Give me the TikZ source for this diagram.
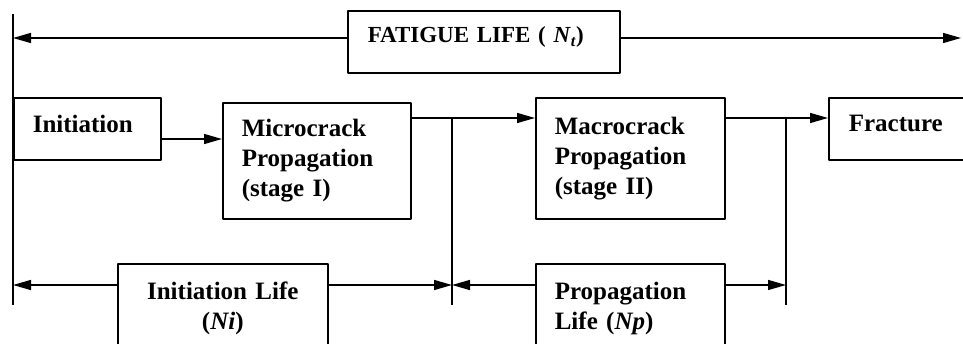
\documentclass[tikz,border=0pt]{standalone}
\usepackage{fontspec}
\setmainfont{Liberation Serif}
\usetikzlibrary{arrows.meta}

\begin{document}
\begin{tikzpicture}[x=1pt, y=-1pt, line join=round,
    font=\fontsize{25}{30}\selectfont\bfseries,
    box/.style={draw, line width=1.6pt, anchor=north west, inner xsep=19pt, inner ysep=0pt, align=left},
    arr/.style={line width=1.4pt, -{Triangle[length=18pt,width=10pt]}},
    ln/.style={line width=1.4pt}]
    \useasboundingbox (0,0) rectangle (963,344);
    \clip (0,0) rectangle (963,344);

    % Tong tuoi tho
    \node[box, font=\fontsize{23}{28}\selectfont\bfseries, inner xsep=20pt, text width=232pt, minimum height=62pt, text depth=14pt] (fatigue) at (347,10) {\mbox{FATIGUE LIFE ( \textit{N}\textsubscript{\textit{t}})}};

    % Cac giai doan
    \node[box, text width=109pt, minimum height=62pt, text depth=10pt] (init) at (13,97) {Initiation};
    \node[box, text width=150pt, minimum height=116pt] (micro) at (222,102) {Microcrack\\Propagation\\(stage I)};
    \node[box, text width=151pt, minimum height=121pt] (macro) at (535,97) {Macrocrack\\Propagation\\(stage II)};
    \node[box, inner xsep=20pt, text width=100pt, minimum height=62pt, text depth=10pt] (fract) at (828,97) {Fracture};

    % Tuoi tho thanh phan
    \node[box, align=center, text width=172pt, minimum height=90pt] (inilife) at (117,263) {Initiation Life\\(\textit{Ni})};
    \node[box, text width=151pt, minimum height=90pt] (proplife) at (535,263) {Propagation\\Life (\textit{Np})};

    % Cac moc
    \coordinate (top0) at (13,14);
    \coordinate (bot0) at (13,305);
    \coordinate (jA) at (452,118);
    \coordinate (jAb) at (452,305);
    \coordinate (jB) at (786,118);
    \coordinate (jBb) at (786,305);
    \coordinate (tipR) at (961,38);
    \coordinate (midrow) at (0,139);
    \coordinate (lowrow) at (0,285);

    % Duong doc
    \draw[ln] (top0) -- (bot0);
    \draw[ln] (jA) -- (jAb);
    \draw[ln] (jB) -- (jBb);

    % Mui ten tren
    \draw[arr] (fatigue.west |- tipR) -- (top0 |- tipR);
    \draw[arr] (fatigue.east |- tipR) -- (tipR);

    % Chuoi giai doan
    \draw[arr] (init.east |- midrow) -- (micro.west |- midrow);
    \draw[ln] (micro.east |- jA) -- (jA);
    \draw[arr] (jA) -- (macro.west |- jA);
    \draw[ln] (macro.east |- jB) -- (jB);
    \draw[arr] (jB) -- (fract.west |- jB);

    % Mui ten duoi
    \draw[arr] (inilife.west |- lowrow) -- (bot0 |- lowrow);
    \draw[arr] (inilife.east |- lowrow) -- (jAb |- lowrow);
    \draw[arr] (proplife.west |- lowrow) -- (jAb |- lowrow);
    \draw[arr] (proplife.east |- lowrow) -- (jBb |- lowrow);
\end{tikzpicture}
\end{document}
